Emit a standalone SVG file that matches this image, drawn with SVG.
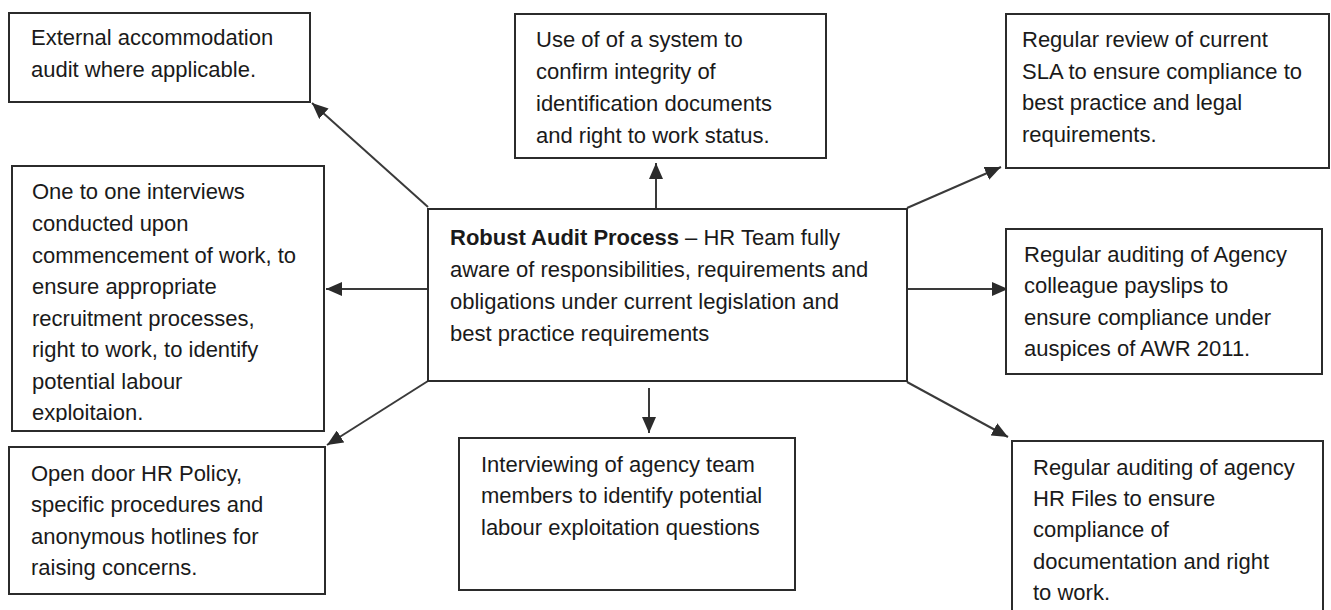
<svg xmlns="http://www.w3.org/2000/svg" width="1331" height="610" viewBox="0 0 1331 610">
<style>
.box{fill:#fff;stroke:#2b2b2b;stroke-width:2}
.t{font-family:"Liberation Sans",Arial,sans-serif;font-size:22px;fill:#1a1a1a}
.b{font-weight:bold}
.con{stroke:#3a3a3a;stroke-width:2;fill:none;marker-end:url(#ah)}
</style>
<defs>
<marker id="ah" markerUnits="userSpaceOnUse" markerWidth="17" markerHeight="14" refX="16" refY="7" orient="auto">
<path d="M0,0 L16,7 L0,14 Z" fill="#2b2b2b"/>
</marker>
<clipPath id="clip4"><rect x="12" y="166" width="312" height="256"/></clipPath>
</defs>
<rect width="1331" height="610" fill="#fff"/>
<g id="connectors">
<line class="con" x1="428" y1="207" x2="312" y2="103"/>
<line class="con" x1="656" y1="209" x2="656" y2="163"/>
<line class="con" x1="907" y1="208" x2="1001" y2="167"/>
<line class="con" x1="428" y1="289" x2="326" y2="289"/>
<line class="con" x1="907" y1="289" x2="1008" y2="289"/>
<line class="con" x1="428" y1="381" x2="327" y2="445"/>
<line class="con" x1="649" y1="388" x2="649" y2="433"/>
<line class="con" x1="907" y1="382" x2="1008" y2="437"/>
</g>
<g id="center">
<rect class="box" x="428" y="209" width="479" height="172"/>
<text class="t"><tspan x="450" y="245"><tspan class="b">Robust Audit Process</tspan> – HR Team fully</tspan><tspan x="450" y="277">aware of responsibilities, requirements and</tspan><tspan x="450" y="309">obligations under current legislation and</tspan><tspan x="450" y="341">best practice requirements</tspan></text>
</g>
<g id="n-accommodation">
<rect class="box" x="9" y="13" width="301" height="89"/>
<text class="t"><tspan x="31" y="45">External accommodation</tspan><tspan x="31" y="77">audit where applicable.</tspan></text>
</g>
<g id="n-system">
<rect class="box" x="515" y="14" width="311" height="144"/>
<text class="t"><tspan x="536" y="47">Use of of a system to</tspan><tspan x="536" y="79">confirm integrity of</tspan><tspan x="536" y="111">identification documents</tspan><tspan x="536" y="143">and right to work status.</tspan></text>
</g>
<g id="n-sla">
<rect class="box" x="1006" y="14" width="323" height="154"/>
<text class="t"><tspan x="1022" y="47">Regular review of current</tspan><tspan x="1022" y="79">SLA to ensure compliance to</tspan><tspan x="1022" y="110">best practice and legal</tspan><tspan x="1022" y="142">requirements.</tspan></text>
</g>
<g id="n-interviews">
<rect class="box" x="12" y="166" width="312" height="265"/>
<text class="t" clip-path="url(#clip4)"><tspan x="32" y="199">One to one interviews</tspan><tspan x="32" y="231">conducted upon</tspan><tspan x="32" y="263">commencement of work, to</tspan><tspan x="32" y="294">ensure appropriate</tspan><tspan x="32" y="326">recruitment processes,</tspan><tspan x="32" y="357">right to work, to identify</tspan><tspan x="32" y="389">potential labour</tspan><tspan x="32" y="420">exploitaion.</tspan></text>
</g>
<g id="n-payslips">
<rect class="box" x="1006" y="229" width="316" height="145"/>
<text class="t"><tspan x="1024" y="262">Regular auditing of Agency</tspan><tspan x="1024" y="293">colleague payslips to</tspan><tspan x="1024" y="325">ensure compliance under</tspan><tspan x="1024" y="356">auspices of AWR 2011.</tspan></text>
</g>
<g id="n-opendoor">
<rect class="box" x="9" y="447" width="316" height="147"/>
<text class="t"><tspan x="31" y="481">Open door HR Policy,</tspan><tspan x="31" y="512">specific procedures and</tspan><tspan x="31" y="544">anonymous hotlines for</tspan><tspan x="31" y="575">raising concerns.</tspan></text>
</g>
<g id="n-agencyteam">
<rect class="box" x="459" y="438" width="336" height="152"/>
<text class="t"><tspan x="481" y="472">Interviewing of agency team</tspan><tspan x="481" y="503">members to identify potential</tspan><tspan x="481" y="535">labour exploitation questions</tspan></text>
</g>
<g id="n-hrfiles">
<rect class="box" x="1012" y="441" width="311" height="190"/>
<text class="t"><tspan x="1033" y="475">Regular auditing of agency</tspan><tspan x="1033" y="506">HR Files to ensure</tspan><tspan x="1033" y="537">compliance of</tspan><tspan x="1033" y="569">documentation and right</tspan><tspan x="1033" y="600">to work.</tspan></text>
</g>
</svg>
